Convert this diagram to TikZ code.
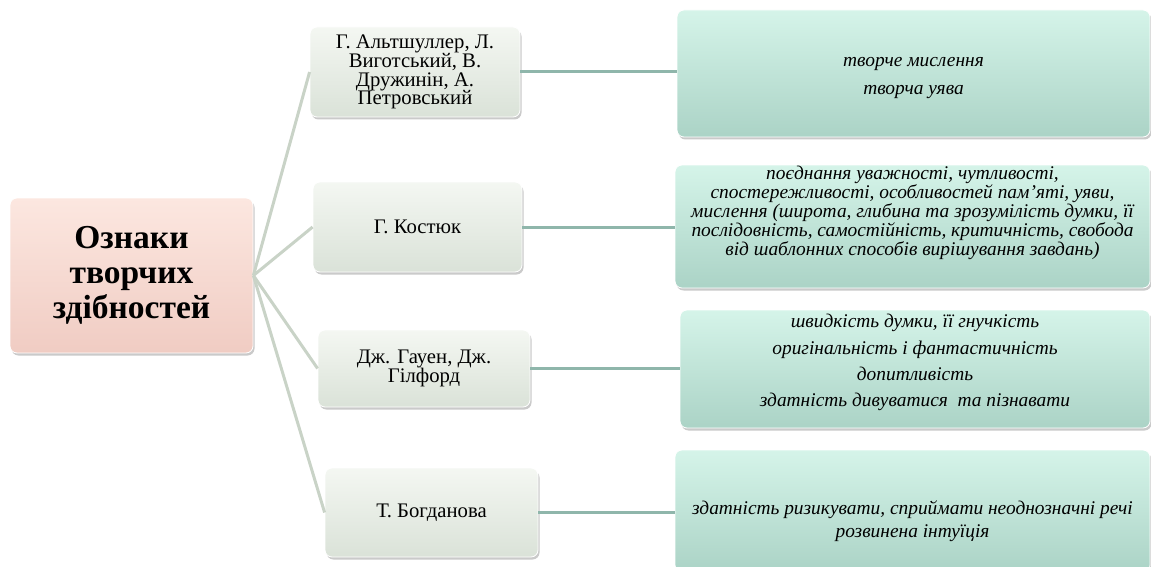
\documentclass[tikz,border=0pt]{standalone}
\usepackage{fontspec}
\setmainfont{Liberation Serif}
\usetikzlibrary{shadows}
\definecolor{rootTop}{HTML}{FCE7E0}
\definecolor{rootBot}{HTML}{F0CCC3}
\definecolor{midTop}{HTML}{F4F7F2}
\definecolor{midBot}{HTML}{DAE2D8}
\definecolor{rTop}{HTML}{D5F4E9}
\definecolor{rBot}{HTML}{ABD3C6}
\definecolor{lineA}{HTML}{C9D3C7}
\definecolor{lineB}{HTML}{8FB6AB}
\begin{document}
\begin{tikzpicture}[x=1pt,y=-1pt,
  box/.style={rounded corners=7pt, draw=white, line width=0.8pt,
    drop shadow={shadow xshift=1.5pt, shadow yshift=-2.5pt, opacity=0.35, fill=black!60},
    align=center, inner sep=2pt},
  rootbox/.style={box, top color=rootTop, bottom color=rootBot,
    font=\fontsize{33.5}{35}\selectfont\bfseries},
  midbox/.style={box, top color=midTop, bottom color=midBot,
    font=\fontsize{20.7}{18.8}\selectfont},
  rbox/.style={box, top color=rTop, bottom color=rBot},
  rtext/.style={align=center, inner sep=0pt, font=\fontsize{19.4}{17.6}\selectfont\itshape},
  conA/.style={draw=lineA, line width=3pt},
  conB/.style={draw=lineB, line width=3pt}]
\useasboundingbox (0,0) rectangle (1151,567);

\node[rootbox, minimum width=243pt, minimum height=155pt] (root) at (131.5,275.5)
  {Ознаки\\творчих\\здібностей};

\node[midbox, minimum width=210pt, minimum height=90pt] (b1) at (415,72)
  {Г. Альтшуллер, Л.\\Виготський, В.\\Дружинін, А.\\Петровський};
\node[midbox, minimum width=209pt, minimum height=90pt] (b2) at (417.5,227)
  {Г. Костюк};
\node[midbox, minimum width=212pt, minimum height=77pt] (b3) at (424,368.5)
  {Дж. Гауен, Дж.\\Гілфорд};
\node[midbox, minimum width=213pt, minimum height=89pt] (b4) at (431.5,512.5)
  {Т. Богданова};

\node[rbox, minimum width=473pt, minimum height=127pt] (r1) at (913.5,73.5) {};
\node[rbox, minimum width=475pt, minimum height=123pt] (r2) at (912.5,226.5) {};
\node[rbox, minimum width=470pt, minimum height=118pt] (r3) at (915,369) {};
\node[rbox, minimum width=475pt, minimum height=122pt] (r4) at (912.5,511) {};

\node[rtext] (r1t) at ([yshift=-5pt]r1.center)
  {творче мислення\\[10.4pt]творча уява};
\node[rtext] (r2t) at ([yshift=14pt]r2.center)
  {поєднання уважності, чутливості,\\
   спостережливості, особливостей пам’яті, уяви,\\
   мислення (широта, глибина та зрозумілість думки, її\\
   послідовність, самостійність, критичність, свобода\\
   від шаблонних способів вирішування завдань)};
\node[rtext] (r3t) at ([yshift=7pt]r3.center)
  {швидкість думки, її гнучкість\\[8.4pt]
   оригінальність і фантастичність\\[8.4pt]
   допитливість\\[8.4pt]
   здатність дивуватися\ \ та пізнавати};
\node[rtext] (r4t) at ([yshift=-10.5pt]r4.center)
  {здатність ризикувати, сприймати неоднозначні речі\\[5.4pt]
   розвинена інтуїція};

\draw[conA] (root.east) -- (b1.west);
\draw[conA] (root.east) -- (b2.west);
\draw[conA] (root.east) -- (b3.west);
\draw[conA] (root.east) -- (b4.west);

\draw[conB] (b1.east) -- (b1.east -| r1.west);
\draw[conB] (b2.east) -- (b2.east -| r2.west);
\draw[conB] (b3.east) -- (b3.east -| r3.west);
\draw[conB] (b4.east) -- (b4.east -| r4.west);
\end{tikzpicture}
\end{document}
